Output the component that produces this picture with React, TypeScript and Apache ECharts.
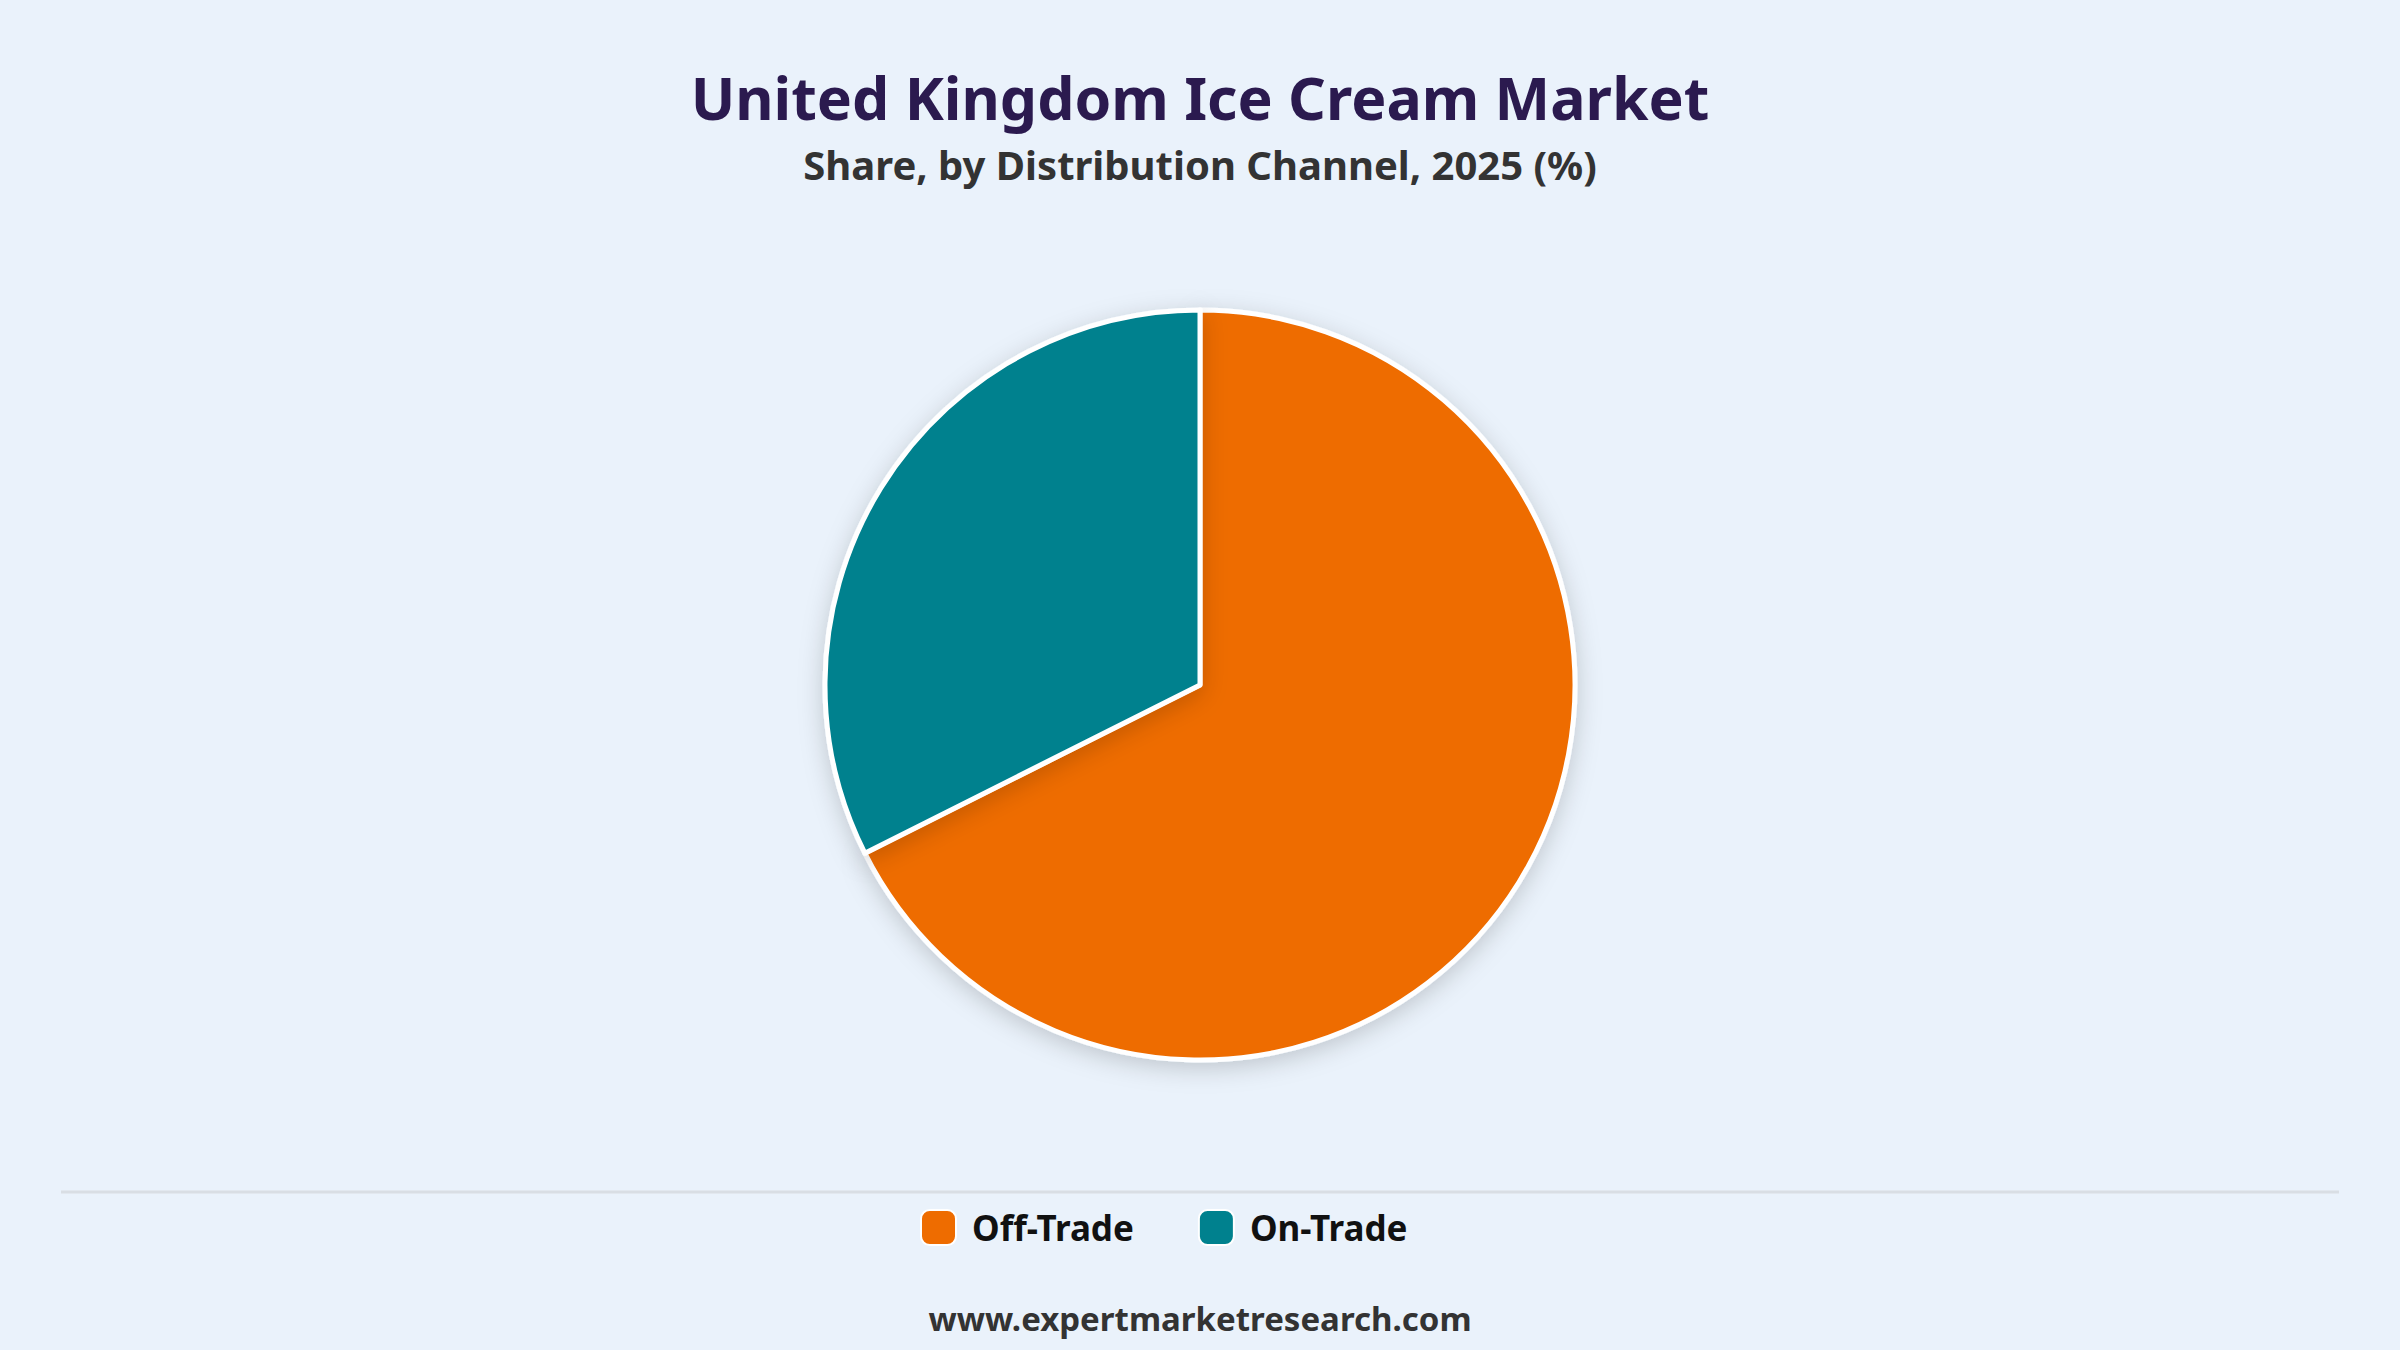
import React, { useEffect, useRef } from "react";
import * as echarts from "echarts";

// shares by distribution channel, 2025 (%)
const channels = ["Off-Trade", "On-Trade"];
const shares = [67.6, 32.4];
const channelColors = ["#EE6C00", "#00818E"];

const titleText = "United Kingdom Ice Cream Market";
const subtitleText = "Share, by Distribution Channel, 2025 (%)";
const footerText = "www.expertmarketresearch.com";

const FONT = "'Noto Sans', 'Open Sans', sans-serif";

const App = () => {
  const chartRef = useRef<HTMLDivElement>(null);

  useEffect(() => {
    document.body.style.margin = "0";
    if (!chartRef.current) return;
    const chart = echarts.init(chartRef.current, null, { renderer: "svg" });

    const option = {
      animation: false,
      backgroundColor: "#EAF2FB",
      title: [
        {
          text: titleText,
          left: "center",
          top: 62,
          textStyle: { fontFamily: FONT, fontSize: 59, fontWeight: "bold", color: "#2B1A4F" },
        },
        {
          text: subtitleText,
          left: "center",
          top: 139,
          textStyle: { fontFamily: FONT, fontSize: 40, fontWeight: "bold", color: "#333333" },
        },
        {
          text: footerText,
          left: "center",
          top: 1297,
          textStyle: { fontFamily: FONT, fontSize: 33, fontWeight: "bold", color: "#333333" },
        },
      ],
      legend: {
        data: channels,
        left: 915,
        top: 1204,
        icon: "roundRect",
        itemWidth: 35,
        itemHeight: 35,
        itemGap: 64,
        textStyle: {
          fontFamily: FONT,
          fontSize: 35,
          fontWeight: "bold",
          color: "#111111",
          padding: [0, 0, 0, 11],
        },
      },
      graphic: [
        {
          type: "line",
          shape: { x1: 61, y1: 1192, x2: 2339, y2: 1192 },
          style: { stroke: "#D9DEE4", lineWidth: 3 },
        },
      ],
      series: [
        {
          type: "pie",
          center: [1200, 685],
          radius: 375,
          startAngle: 90,
          clockwise: true,
          label: { show: false },
          labelLine: { show: false },
          itemStyle: {
            borderColor: "#FFFFFF",
            borderWidth: 5,
            shadowBlur: 24,
            shadowColor: "rgba(0, 0, 0, 0.18)",
            shadowOffsetY: 6,
          },
          emphasis: { disabled: true },
          data: channels.map((name, i) => ({
            name,
            value: shares[i],
            itemStyle: { color: channelColors[i] },
          })),
        },
      ],
    };

    chart.setOption(option);

    return () => {
      chart.dispose();
    };
  }, []);

  return <div ref={chartRef} style={{ width: "2400px", height: "1350px" }}></div>;
};

export default App;
